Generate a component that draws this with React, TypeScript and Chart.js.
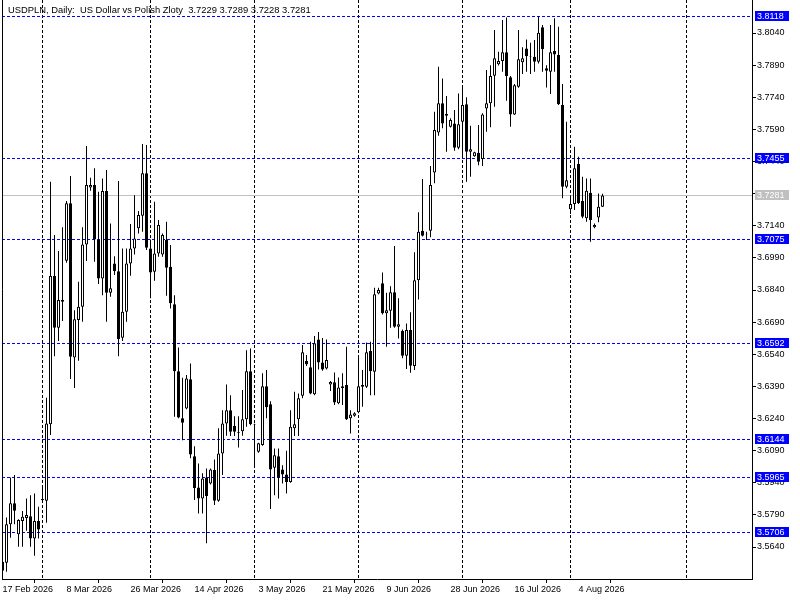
import { useEffect, useRef } from 'react';
import { Chart, registerables } from 'chart.js';

Chart.register(...registerables);

const titleText = 'USDPLN, Daily:  US Dollar vs Polish Zloty  3.7229 3.7289 3.7228 3.7281';

const opens = [
  3.5571, 3.5566, 3.5746, 3.5844, 3.5699, 3.5762, 3.5776, 3.5784, 3.5680, 3.5761,
  3.5860, 3.5856, 3.6213, 3.6905, 3.6664, 3.6793, 3.6977, 3.7245, 3.6525, 3.6700,
  3.6762, 3.7053, 3.7319, 3.7330, 3.7076, 3.6894, 3.7302, 3.6827, 3.6964, 3.6928,
  3.6617, 3.6738, 3.6964, 3.7034, 3.7128, 3.7187, 3.7385, 3.7034, 3.6925, 3.7011,
  3.7006, 3.7073, 3.6949, 3.6774, 3.6461, 3.6241, 3.6287, 3.6423, 3.6064, 3.5918,
  3.5867, 3.5965, 3.5937, 3.5999, 3.5856, 3.6077, 3.6217, 3.6279, 3.6205, 3.6177,
  3.6181, 3.6236, 3.6461, 3.6213, 3.6085, 3.6116, 3.6391, 3.6306, 3.6010, 3.6064,
  3.6002, 3.5979, 3.5944, 3.6194, 3.6236, 3.6346, 3.6508, 3.6479, 3.6353, 3.6609,
  3.6502, 3.6474, 3.6399, 3.6409, 3.6311, 3.6391, 3.6396, 3.6241, 3.6253, 3.6269,
  3.6396, 3.6388, 3.6555, 3.6458, 3.6824, 3.6871, 3.6731, 3.6743, 3.6829, 3.6668,
  3.6648, 3.6533, 3.6653, 3.6485, 3.6886, 3.7117, 3.7100, 3.7117, 3.7389, 3.7576,
  3.7712, 3.7662, 3.7602, 3.7618, 3.7504, 3.7626, 3.7707, 3.7486, 3.7465, 3.7481,
  3.7452, 3.7688, 3.7712, 3.7840, 3.7894, 3.7909, 3.7950, 3.7833, 3.7660, 3.7789,
  3.7903, 3.7968, 3.7932, 3.7929, 3.7906, 3.8067, 3.7875, 3.7859, 3.7956, 3.7937,
  3.7704, 3.7322, 3.7217, 3.7241, 3.7428, 3.7255, 3.7175, 3.7294, 3.7133, 3.7179,
  3.7229,
];

const highs = [
  3.5588, 3.5778, 3.5965, 3.5976, 3.5770, 3.5808, 3.5867, 3.5882, 3.5890, 3.5828,
  3.5921, 3.6337, 3.7345, 3.7097, 3.7022, 3.7133, 3.7255, 3.7372, 3.6746, 3.6878,
  3.7133, 3.7512, 3.7364, 3.7408, 3.7299, 3.7361, 3.7400, 3.7151, 3.6998, 3.7349,
  3.7034, 3.7034, 3.7148, 3.7283, 3.7209, 3.7522, 3.7517, 3.7076, 3.7252, 3.7167,
  3.7104, 3.7159, 3.7050, 3.6816, 3.6572, 3.6430, 3.6443, 3.6497, 3.6111, 3.6030,
  3.5984, 3.6007, 3.6007, 3.6049, 3.6194, 3.6279, 3.6399, 3.6349, 3.6251, 3.6251,
  3.6373, 3.6559, 3.6567, 3.6215, 3.6127, 3.6451, 3.6466, 3.6321, 3.6100, 3.6100,
  3.6022, 3.6089, 3.6279, 3.6365, 3.6357, 3.6583, 3.6536, 3.6598, 3.6625, 3.6644,
  3.6616, 3.6609, 3.6415, 3.6455, 3.6432, 3.6451, 3.6575, 3.6279, 3.6269, 3.6528,
  3.6466, 3.6595, 3.6598, 3.6850, 3.6850, 3.6922, 3.6827, 3.6858, 3.7045, 3.6801,
  3.6656, 3.6684, 3.6736, 3.7016, 3.7203, 3.7358, 3.7112, 3.7419, 3.7672, 3.7883,
  3.7828, 3.7746, 3.7642, 3.7680, 3.7758, 3.7792, 3.7740, 3.7607, 3.7486, 3.7610,
  3.7665, 3.7867, 3.7890, 3.8054, 3.7953, 3.8101, 3.8112, 3.7839, 3.7802, 3.8054,
  3.7973, 3.8010, 3.7995, 3.8007, 3.8118, 3.8077, 3.7890, 3.8077, 3.8109, 3.8069,
  3.7802, 3.7626, 3.7283, 3.7509, 3.7462, 3.7369, 3.7361, 3.7361, 3.7151, 3.7291,
  3.7289,
];

const lows = [
  3.5509, 3.5524, 3.5683, 3.5746, 3.5641, 3.5641, 3.5716, 3.5641, 3.5599, 3.5680,
  3.5851, 3.5753, 3.6163, 3.6531, 3.6602, 3.6695, 3.6967, 3.6424, 3.6383, 3.6510,
  3.6692, 3.6975, 3.7303, 3.6972, 3.6868, 3.6816, 3.6692, 3.6808, 3.6910, 3.6531,
  3.6602, 3.6692, 3.6906, 3.7006, 3.7104, 3.7112, 3.7027, 3.6801, 3.6883, 3.6995,
  3.6995, 3.6813, 3.6754, 3.6248, 3.6241, 3.6139, 3.6283, 3.6054, 3.5859, 3.5797,
  3.5797, 3.5657, 3.5932, 3.5836, 3.5851, 3.5976, 3.6159, 3.6158, 3.6158, 3.6105,
  3.6159, 3.6201, 3.6209, 3.6015, 3.6080, 3.6113, 3.6241, 3.5817, 3.5882, 3.5867,
  3.5937, 3.5890, 3.5940, 3.6158, 3.6158, 3.6334, 3.6485, 3.6353, 3.6349, 3.6469,
  3.6463, 3.6469, 3.6369, 3.6303, 3.6307, 3.6303, 3.6233, 3.6170, 3.6248, 3.6264,
  3.6295, 3.6383, 3.6349, 3.6349, 3.6820, 3.6726, 3.6575, 3.6664, 3.6664, 3.6614,
  3.6521, 3.6471, 3.6454, 3.6466, 3.6796, 3.7090, 3.7073, 3.7086, 3.7338, 3.7560,
  3.7595, 3.7486, 3.7599, 3.7490, 3.7497, 3.7455, 3.7345, 3.7369, 3.7462, 3.7423,
  3.7419, 3.7579, 3.7600, 3.7696, 3.7888, 3.7859, 3.7724, 3.7602, 3.7657, 3.7784,
  3.7848, 3.7859, 3.7848, 3.7859, 3.7898, 3.7859, 3.7786, 3.7755, 3.7859, 3.7704,
  3.7268, 3.7315, 3.7195, 3.7213, 3.7241, 3.7175, 3.7159, 3.7065, 3.7128, 3.7156,
  3.7228,
];

const closes = [
  3.5529, 3.5746, 3.5844, 3.5809, 3.5766, 3.5781, 3.5789, 3.5680, 3.5761, 3.5722,
  3.5864, 3.6217, 3.6905, 3.6664, 3.6793, 3.6785, 3.7245, 3.6528, 3.6703, 3.6762,
  3.7053, 3.7330, 3.7330, 3.7076, 3.6894, 3.7302, 3.6827, 3.6848, 3.6928, 3.6611,
  3.6738, 3.6964, 3.7034, 3.7081, 3.7190, 3.7385, 3.7037, 3.6922, 3.7011, 3.7143,
  3.7097, 3.6944, 3.6778, 3.6461, 3.6245, 3.6220, 3.6427, 3.6072, 3.5916, 3.5867,
  3.5960, 3.5878, 3.6002, 3.5856, 3.6077, 3.6217, 3.6279, 3.6178, 3.6178, 3.6173,
  3.6236, 3.6461, 3.6213, 3.6211, 3.6124, 3.6391, 3.6292, 3.6002, 3.6069, 3.5963,
  3.5979, 3.5944, 3.6201, 3.6213, 3.6334, 3.6549, 3.6493, 3.6357, 3.6591, 3.6502,
  3.6469, 3.6513, 3.6411, 3.6315, 3.6385, 3.6383, 3.6237, 3.6259, 3.6264, 3.6391,
  3.6388, 3.6549, 3.6461, 3.6820, 3.6840, 3.6731, 3.6746, 3.6829, 3.6668, 3.6680,
  3.6533, 3.6653, 3.6486, 3.6886, 3.7112, 3.7093, 3.7103, 3.7330, 3.7587, 3.7712,
  3.7618, 3.7654, 3.7634, 3.7504, 3.7614, 3.7704, 3.7486, 3.7497, 3.7483, 3.7439,
  3.7660, 3.7712, 3.7839, 3.7922, 3.7909, 3.7950, 3.7839, 3.7660, 3.7796, 3.7917,
  3.7922, 3.7932, 3.7929, 3.7906, 3.8041, 3.7964, 3.7864, 3.7950, 3.7940, 3.7707,
  3.7322, 3.7353, 3.7241, 3.7408, 3.7245, 3.7182, 3.7303, 3.7167, 3.7143, 3.7229,
  3.7281,
];

const dateTickBars = [0, 16, 32, 48, 64, 80, 96, 112, 128, 144];
const dateTickLabels = [
  '17 Feb 2026', '8 Mar 2026', '26 Mar 2026', '14 Apr 2026', '3 May 2026',
  '21 May 2026', '9 Jun 2026', '28 Jun 2026', '16 Jul 2026', '4 Aug 2026',
];
const monthStartBars = [10, 37, 63, 89, 115, 142, 171];
const priceTicks = [
  3.5640, 3.5790, 3.5940, 3.6090, 3.6240, 3.6390, 3.6540, 3.6690, 3.6840,
  3.6990, 3.7140, 3.7290, 3.7440, 3.7590, 3.7740, 3.7890, 3.8040,
];
const levelLines = [3.8118, 3.7455, 3.7075, 3.6592, 3.6144, 3.5965, 3.5706];
const bidPrice = 3.7281;

const FONT_FAMILY = '"Liberation Sans", Arial, sans-serif';
const FONT_SIZE = 9;

const overlayPlugin = {
  id: 'mtOverlay',
  beforeDatasetsDraw(chart: any) {
    const { ctx, chartArea: a } = chart;
    const x = chart.scales.x;
    const y = chart.scales.y;
    ctx.save();
    ctx.beginPath();
    ctx.rect(a.left, a.top, a.right - a.left, a.bottom - a.top);
    ctx.clip();
    ctx.lineWidth = 1;
    ctx.setLineDash([3, 2]);
    ctx.strokeStyle = '#000000';
    for (const b of monthStartBars) {
      const px = Math.floor(x.getPixelForValue(b)) + 0.5;
      ctx.beginPath();
      ctx.moveTo(px, a.top);
      ctx.lineTo(px, a.bottom);
      ctx.stroke();
    }
    ctx.strokeStyle = '#0000ff';
    for (const lv of levelLines) {
      const py = Math.floor(y.getPixelForValue(lv)) + 0.5;
      ctx.beginPath();
      ctx.moveTo(a.left, py);
      ctx.lineTo(a.right, py);
      ctx.stroke();
    }
    ctx.setLineDash([]);
    ctx.strokeStyle = '#c0c0c0';
    const bp = Math.floor(y.getPixelForValue(bidPrice)) + 0.5;
    ctx.beginPath();
    ctx.moveTo(a.left, bp);
    ctx.lineTo(a.right, bp);
    ctx.stroke();
    ctx.restore();
  },
  afterDraw(chart: any) {
    const { ctx, chartArea: a } = chart;
    const y = chart.scales.y;
    ctx.save();
    ctx.strokeStyle = '#000000';
    ctx.lineWidth = 1;
    ctx.beginPath();
    ctx.moveTo(a.left + 0.5, a.top);
    ctx.lineTo(a.left + 0.5, a.bottom + 0.5);
    ctx.stroke();

    ctx.font = `${FONT_SIZE}px ${FONT_FAMILY}`;
    ctx.textBaseline = 'middle';
    ctx.textAlign = 'left';
    const drawTag = (price: number, bg: string) => {
      const py = Math.floor(y.getPixelForValue(price));
      ctx.fillStyle = bg;
      ctx.fillRect(a.right + 3, py - 5, 34, 10);
      ctx.fillStyle = '#ffffff';
      ctx.fillText(price.toFixed(4), a.right + 5, py + 0.5);
    };
    for (const lv of levelLines) drawTag(lv, '#0000ff');
    drawTag(bidPrice, '#c0c0c0');

    ctx.fillStyle = '#000000';
    ctx.textBaseline = 'alphabetic';
    ctx.font = `9.4px ${FONT_FAMILY}`;
    ctx.fillText(titleText, 8, 13);
    ctx.restore();
  },
};

export default function App() {
  const ref = useRef<HTMLCanvasElement>(null);
  useEffect(() => {
    document.body.style.margin = '0';
    const bodies = opens.map((o, i) => ({ x: i, y: [o, closes[i]] }));
    const wicks = lows.map((l, i) => ({ x: i, y: [l, highs[i]] }));
    const bodyColors = opens.map((o, i) => (closes[i] >= o ? '#ffffff' : '#000000'));
    const zeroPad = (scale: any) => {
      scale.paddingTop = 0;
      scale.paddingBottom = 0;
      scale.paddingLeft = 0;
      scale.paddingRight = 0;
    };
    const chart = new Chart(ref.current as HTMLCanvasElement, {
      type: 'bar',
      data: {
        datasets: [
          {
            label: 'body',
            data: bodies as any,
            backgroundColor: bodyColors,
            borderColor: '#000000',
            borderWidth: 1,
            borderSkipped: false,
            barThickness: 3,
            grouped: false,
            inflateAmount: 0,
            order: 1,
          } as any,
          {
            label: 'wick',
            data: wicks as any,
            backgroundColor: '#000000',
            borderWidth: 0,
            barThickness: 1,
            grouped: false,
            inflateAmount: 0,
            order: 2,
          } as any,
        ],
      },
      options: {
        responsive: false,
        animation: false,
        devicePixelRatio: 1,
        events: [],
        layout: { padding: { left: 2, top: 0, right: 0, bottom: 0 } },
        plugins: { legend: { display: false }, tooltip: { enabled: false } },
        scales: {
          x: {
            type: 'linear',
            position: 'bottom',
            min: -0.125,
            max: 187.375,
            offset: false,
            afterBuildTicks: (scale: any) => {
              scale.ticks = dateTickBars.map((v) => ({ value: v }));
            },
            afterFit: (scale: any) => {
              scale.height = 21;
              zeroPad(scale);
            },
            ticks: {
              autoSkip: false,
              maxRotation: 0,
              minRotation: 0,
              align: 'start',
              padding: 1,
              color: '#000000',
              font: { family: FONT_FAMILY, size: FONT_SIZE },
              callback: (v: any) => {
                const k = dateTickBars.indexOf(Number(v));
                return k >= 0 ? dateTickLabels[k] : '';
              },
            },
            grid: {
              display: true,
              drawOnChartArea: false,
              drawTicks: true,
              tickLength: 4,
              color: '#000000',
              lineWidth: 1,
            },
            border: { display: true, color: '#000000', width: 1 },
          } as any,
          y: {
            type: 'linear',
            position: 'right',
            min: 3.54906,
            max: 3.81941,
            afterBuildTicks: (scale: any) => {
              scale.ticks = priceTicks.map((v) => ({ value: v }));
            },
            afterFit: (scale: any) => {
              scale.width = 48;
              zeroPad(scale);
            },
            ticks: {
              autoSkip: false,
              padding: 1,
              color: '#000000',
              font: { family: FONT_FAMILY, size: FONT_SIZE },
              callback: (v: any) => Number(v).toFixed(4),
            },
            grid: {
              display: true,
              drawOnChartArea: false,
              drawTicks: true,
              tickLength: 4,
              color: '#000000',
              lineWidth: 1,
            },
            border: { display: true, color: '#000000', width: 1 },
          } as any,
        },
      },
      plugins: [overlayPlugin],
    });
    return () => chart.destroy();
  }, []);
  return (
    <div style={{ position: 'absolute', left: 0, top: 0, width: 800, height: 600, background: '#ffffff' }}>
      <canvas ref={ref} width={800} height={600} style={{ display: 'block', width: 800, height: 600 }} />
    </div>
  );
}
